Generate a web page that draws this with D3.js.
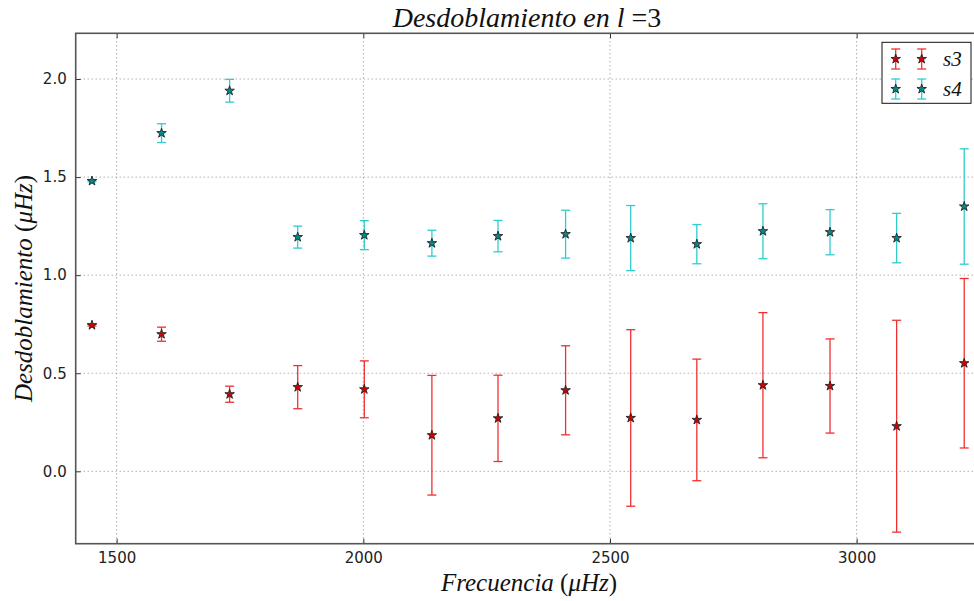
<!DOCTYPE html>
<html>
<head>
<meta charset="utf-8">
<script src="https://cdnjs.cloudflare.com/ajax/libs/d3/7.8.5/d3.min.js"></script>
<style>
  html, body { margin: 0; padding: 0; background: #fff; }
  svg { display: block; }
</style>
</head>
<body>
<svg id="chart" width="974" height="601"></svg>
<script>
// Frequencies (μHz) of each l=3 mode
const freq = [1450, 1591, 1729, 1867, 2002, 2139, 2273, 2410, 2542, 2676, 2810, 2946, 3081, 3218];

// Splitting s3 and its uncertainty
const s3 = [0.745, 0.699, 0.393, 0.429, 0.418, 0.184, 0.270, 0.413, 0.272, 0.262, 0.439, 0.435, 0.230, 0.551];
const s3Err = [0.004, 0.036, 0.041, 0.110, 0.145, 0.305, 0.220, 0.227, 0.450, 0.310, 0.370, 0.240, 0.540, 0.432];

// Splitting s4 and its uncertainty
const s4 = [1.480, 1.724, 1.940, 1.194, 1.204, 1.163, 1.199, 1.209, 1.189, 1.158, 1.224, 1.219, 1.189, 1.350];
const s4Err = [0.004, 0.048, 0.058, 0.056, 0.074, 0.066, 0.080, 0.122, 0.166, 0.100, 0.140, 0.115, 0.126, 0.294];

const xTicks = [1500, 2000, 2500, 3000];
const yTicks = [0.0, 0.5, 1.0, 1.5, 2.0];

const series = [
  { name: "s3", values: s3, err: s3Err, bar: "#f03030", fill: "#d40000" },
  { name: "s4", values: s4, err: s4Err, bar: "#30cccc", fill: "#008c8c" }
];

const svg = d3.select("#chart");
const L = 75.7, R = 980, T = 33.3, B = 543.7;

const x = d3.scaleLinear().domain([1417, 3250]).range([L, R]);
const y = d3.scaleLinear().domain([-0.369, 2.233]).range([B, T]);

const tickFont = "'DejaVu Sans', sans-serif";
const mathFont = "'Liberation Serif', 'DejaVu Serif', serif";

// Dotted grid
const grid = svg.append("g");
grid.selectAll("line.gx").data(xTicks).join("line")
  .attr("x1", d => x(d)).attr("x2", d => x(d))
  .attr("y1", T).attr("y2", B)
  .attr("stroke", "#888").attr("stroke-width", 1).attr("stroke-dasharray", "1,3");
grid.selectAll("line.gy").data(yTicks).join("line")
  .attr("x1", L).attr("x2", R)
  .attr("y1", d => y(d)).attr("y2", d => y(d))
  .attr("stroke", "#888").attr("stroke-width", 1).attr("stroke-dasharray", "1,3");

// Axes with inward ticks
const xAxisB = d3.axisBottom(x).tickValues(xTicks).tickSize(-5).tickPadding(9).tickFormat(d3.format("d"));
const xAxisT = d3.axisTop(x).tickValues(xTicks).tickSize(-5).tickFormat("");
const yAxisL = d3.axisLeft(y).tickValues(yTicks).tickSize(-5).tickPadding(9).tickFormat(d3.format(".1f"));
const yAxisR = d3.axisRight(y).tickValues(yTicks).tickSize(-5).tickFormat("");

function styleAxis(g) {
  g.select(".domain").remove();
  g.selectAll(".tick line").attr("stroke", "#333").attr("stroke-width", 1);
  g.selectAll(".tick text").attr("fill", "#222").style("font-family", tickFont).style("font-size", "15px");
}
svg.append("g").attr("transform", `translate(0,${B})`).call(xAxisB).call(styleAxis);
svg.append("g").attr("transform", `translate(0,${T})`).call(xAxisT).call(styleAxis);
svg.append("g").attr("transform", `translate(${L},0)`).call(yAxisL).call(styleAxis);
svg.append("g").attr("transform", `translate(${R},0)`).call(yAxisR).call(styleAxis);

// Frame
svg.append("rect")
  .attr("x", L).attr("y", T).attr("width", R - L).attr("height", B - T)
  .attr("fill", "none").attr("stroke", "#555").attr("stroke-width", 1.6);

const star = d3.symbol().type(d3.symbolStar).size(28);
const capW = 4.5;

// Error bars and star markers
series.forEach(s => {
  const g = svg.append("g");
  const pts = freq.map((f, i) => ({ f, v: s.values[i], e: s.err[i] }));
  g.selectAll("line.bar").data(pts).join("line")
    .attr("x1", d => x(d.f)).attr("x2", d => x(d.f))
    .attr("y1", d => y(d.v + d.e)).attr("y2", d => y(d.v - d.e))
    .attr("stroke", s.bar).attr("stroke-width", 1.3);
  [1, -1].forEach(sign => {
    g.selectAll(null).data(pts).join("line")
      .attr("x1", d => x(d.f) - capW).attr("x2", d => x(d.f) + capW)
      .attr("y1", d => y(d.v + sign * d.e)).attr("y2", d => y(d.v + sign * d.e))
      .attr("stroke", s.bar).attr("stroke-width", 1.3);
  });
  g.selectAll("path").data(pts).join("path")
    .attr("d", star)
    .attr("transform", d => `translate(${x(d.f)},${y(d.v)})`)
    .attr("fill", s.fill).attr("stroke", "#222").attr("stroke-width", 0.9);
});

// Title
const title = svg.append("text")
  .attr("x", 527).attr("y", 27).attr("text-anchor", "middle")
  .style("font-family", mathFont).style("font-size", "28px").attr("fill", "#111");
title.append("tspan").style("font-style", "italic").text("Desdoblamiento en l");
title.append("tspan").text(" =3");

// Axis labels
const xl = svg.append("text")
  .attr("x", 529).attr("y", 591).attr("text-anchor", "middle")
  .style("font-family", mathFont).style("font-size", "25px").attr("fill", "#111");
xl.append("tspan").style("font-style", "italic").text("Frecuencia ");
xl.append("tspan").text("(");
xl.append("tspan").style("font-style", "italic").text("μHz");
xl.append("tspan").text(")");

const yl = svg.append("text")
  .attr("transform", `translate(32,${(T + B) / 2}) rotate(-90)`)
  .attr("text-anchor", "middle")
  .style("font-family", mathFont).style("font-size", "25px").attr("fill", "#111");
yl.append("tspan").style("font-style", "italic").text("Desdoblamiento ");
yl.append("tspan").text("(");
yl.append("tspan").style("font-style", "italic").text("μHz");
yl.append("tspan").text(")");

// Legend
const lg = svg.append("g");
lg.append("rect")
  .attr("x", 882).attr("y", 42.3).attr("width", 89).attr("height", 61)
  .attr("fill", "#fff").attr("stroke", "#111").attr("stroke-width", 1);
series.forEach((s, i) => {
  const cy = 59 + i * 30;
  [895.7, 921.7].forEach(cx => {
    lg.append("line").attr("x1", cx).attr("x2", cx).attr("y1", cy - 10).attr("y2", cy + 10)
      .attr("stroke", s.bar).attr("stroke-width", 1.3);
    [-10, 10].forEach(o => lg.append("line")
      .attr("x1", cx - capW).attr("x2", cx + capW).attr("y1", cy + o).attr("y2", cy + o)
      .attr("stroke", s.bar).attr("stroke-width", 1.3));
    lg.append("path").attr("d", star).attr("transform", `translate(${cx},${cy})`)
      .attr("fill", s.fill).attr("stroke", "#222").attr("stroke-width", 0.9);
  });
  lg.append("text").attr("x", 943).attr("y", cy + 7)
    .style("font-family", mathFont).style("font-size", "21px").style("font-style", "italic")
    .attr("fill", "#111").text(s.name);
});
</script>
</body>
</html>
